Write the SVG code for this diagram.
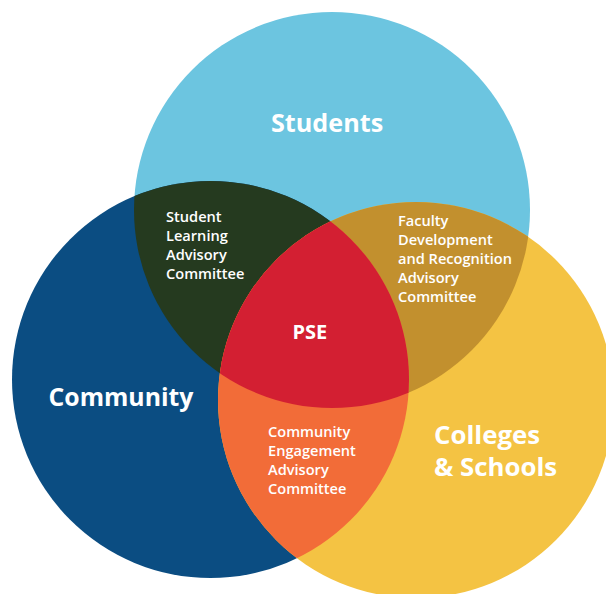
<svg xmlns="http://www.w3.org/2000/svg" width="606" height="594" viewBox="0 0 606 594">
  <defs>
    <clipPath id="clipS"><circle cx="332" cy="210" r="198"/></clipPath>
    <clipPath id="clipC"><circle cx="210.5" cy="379.5" r="198.5"/></clipPath>
    <clipPath id="clipY"><circle cx="416" cy="400" r="198"/></clipPath>
  </defs>
  <style>
    .big { font-family: "Open Sans", "Noto Sans", sans-serif; font-weight: 700; fill: #ffffff; }
    .small { font-family: "Open Sans", "Noto Sans", sans-serif; font-weight: 600; font-size: 14.6px; fill: #ffffff; }
  </style>
  <rect width="606" height="594" fill="#ffffff"/>

  <g id="students">
    <circle cx="332" cy="210" r="198" fill="#6CC5E0"/>
  </g>
  <g id="community">
    <circle cx="210.5" cy="379.5" r="198.5" fill="#0B4D82"/>
  </g>
  <g id="colleges">
    <circle cx="416" cy="400" r="198" fill="#F4C343"/>
  </g>

  <g id="student-learning">
    <circle cx="210.5" cy="379.5" r="198.5" fill="#253A1F" clip-path="url(#clipS)"/>
  </g>
  <g id="faculty-development">
    <circle cx="416" cy="400" r="198" fill="#C2902E" clip-path="url(#clipS)"/>
  </g>
  <g id="community-engagement">
    <circle cx="416" cy="400" r="198" fill="#F26C38" clip-path="url(#clipC)"/>
  </g>
  <g id="pse">
    <g clip-path="url(#clipS)">
      <circle cx="416" cy="400" r="198" fill="#D31F32" clip-path="url(#clipC)"/>
    </g>
  </g>

  <g id="labels">
    <text class="big" x="271" y="132.3" font-size="25.2">Students</text>
    <text class="big" x="48.5" y="406" font-size="24.8">Community</text>
    <text class="big" font-size="25.8"><tspan x="434" y="444.3">Colleges</tspan><tspan x="434" y="476">&amp; Schools</tspan></text>
    <text class="big" x="292.5" y="338.7" font-size="20">PSE</text>

    <text class="small"><tspan x="166" y="222.3">Student</tspan><tspan x="166" y="241.3">Learning</tspan><tspan x="166" y="260.3">Advisory</tspan><tspan x="166" y="279.3">Committee</tspan></text>

    <text class="small"><tspan x="398" y="225.7">Faculty</tspan><tspan x="398" y="245">Development</tspan><tspan x="398" y="264">and Recognition</tspan><tspan x="398" y="283.3">Advisory</tspan><tspan x="398" y="301.7">Committee</tspan></text>

    <text class="small"><tspan x="268" y="437.3">Community</tspan><tspan x="268" y="456">Engagement</tspan><tspan x="268" y="475">Advisory</tspan><tspan x="268" y="494">Committee</tspan></text>
  </g>
</svg>
